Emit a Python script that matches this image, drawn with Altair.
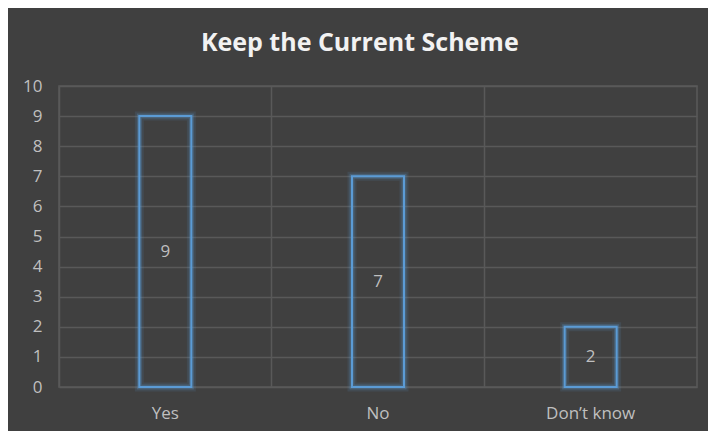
import altair as alt
import pandas as pd

categories = ["Yes", "No", "Don\u2019t know"]
values = [9, 7, 2]
title_text = "Keep the Current Scheme"

df = pd.DataFrame({"cat": categories, "val": values})

FONT = "Open Sans"
BLUE = "#5b9bd5"
LABEL = "#bfbfbf"

x = alt.X("cat:N", sort=categories, title=None,
          scale=alt.Scale(paddingInner=0, paddingOuter=0),
          axis=alt.Axis(labelAngle=0, bandPosition=0, grid=True, gridColor="#595959",
                        gridWidth=1.5, ticks=False, domain=False, labelPadding=18,
                        labelFontSize=17, labelColor=LABEL, labelFont=FONT))
y_axis = alt.Axis(values=list(range(0, 11)), grid=True, gridColor="#595959",
                  gridWidth=1.5, ticks=False, domain=False, labelPadding=17,
                  labelOverlap=False, labelFontSize=17, labelColor=LABEL,
                  labelFont=FONT)
y_scale = alt.Scale(domain=[0, 10])
y = alt.Y("val:Q", title=None, scale=y_scale, axis=y_axis)

base = alt.Chart(df)

glow1 = base.mark_bar(size=52, fill=None, stroke=BLUE, strokeWidth=9, strokeOpacity=0.12).encode(x=x, y=y)
glow2 = base.mark_bar(size=52, fill=None, stroke=BLUE, strokeWidth=5, strokeOpacity=0.28).encode(x=x, y=y)
bars = base.mark_bar(size=52, fill=None, stroke=BLUE, strokeWidth=2).encode(x=x, y=y)

labels = base.transform_calculate(mid="datum.val / 2").mark_text(
    font=FONT, fontSize=17, color=LABEL
).encode(x=x, y=alt.Y("mid:Q", title=None, scale=y_scale, axis=y_axis), text="val:Q")

chart = alt.layer(glow1, glow2, bars, labels).properties(
    width=638, height=301,
    title=alt.Title(title_text, font=FONT, fontSize=25, fontWeight="bold",
                    color="#f2f2f2", anchor="middle", frame="bounds", offset=21),
    background="#404040",
    padding={"left": 51, "top": 78, "right": 11, "bottom": 44},
    autosize=alt.AutoSizeParams(type="none"),
).configure_view(stroke="#595959", strokeWidth=1.5)

chart.save("out.html", embed_options={"renderer": "svg", "actions": False})
